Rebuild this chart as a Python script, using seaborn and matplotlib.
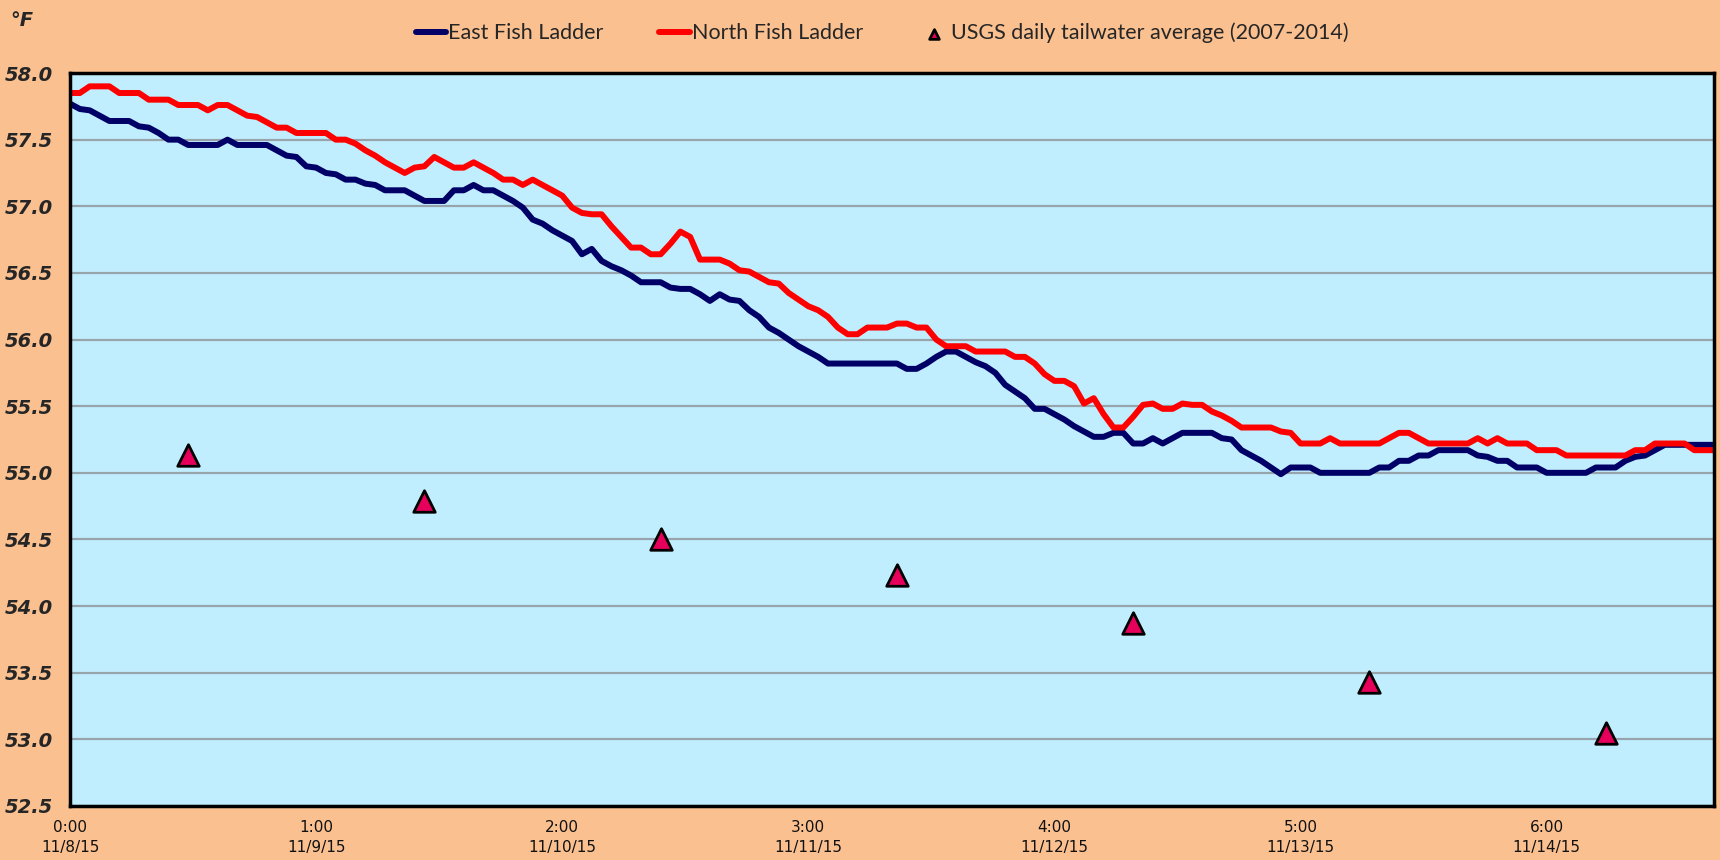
import numpy as np
import pandas as pd
import matplotlib
matplotlib.use("Agg")
import matplotlib.pyplot as plt
import seaborn as sns

# hourly readings, 11/8/15 0:00 onwards
start = "2015-11-08 00:00"

east = [
    57.77, 57.73, 57.72, 57.68, 57.64, 57.64, 57.64, 57.60, 57.59, 57.55, 57.50, 57.50,
    57.46, 57.46, 57.46, 57.46, 57.50, 57.46, 57.46, 57.46, 57.46, 57.42, 57.38, 57.37,
    57.30, 57.29, 57.25, 57.24, 57.20, 57.20, 57.17, 57.16, 57.12, 57.12, 57.12, 57.08,
    57.04, 57.04, 57.04, 57.12, 57.12, 57.16, 57.12, 57.12, 57.08, 57.04, 56.99, 56.90,
    56.87, 56.82, 56.78, 56.74, 56.64, 56.68, 56.59, 56.55, 56.52, 56.48, 56.43, 56.43,
    56.43, 56.39, 56.38, 56.38, 56.34, 56.29, 56.34, 56.30, 56.29, 56.22, 56.17, 56.09,
    56.05, 56.00, 55.95, 55.91, 55.87, 55.82, 55.82, 55.82, 55.82, 55.82, 55.82, 55.82,
    55.82, 55.78, 55.78, 55.82, 55.87, 55.91, 55.91, 55.87, 55.83, 55.80, 55.75, 55.66,
    55.61, 55.56, 55.48, 55.48, 55.44, 55.40, 55.35, 55.31, 55.27, 55.27, 55.30, 55.30,
    55.22, 55.22, 55.26, 55.22, 55.26, 55.30, 55.30, 55.30, 55.30, 55.26, 55.25, 55.17,
    55.13, 55.09, 55.04, 54.99, 55.04, 55.04, 55.04, 55.00, 55.00, 55.00, 55.00, 55.00,
    55.00, 55.04, 55.04, 55.09, 55.09, 55.13, 55.13, 55.17, 55.17, 55.17, 55.17, 55.13,
    55.12, 55.09, 55.09, 55.04, 55.04, 55.04, 55.00, 55.00, 55.00, 55.00, 55.00, 55.04,
    55.04, 55.04, 55.09, 55.12, 55.13, 55.17, 55.21, 55.21, 55.21, 55.21, 55.21, 55.21,
]

north = [
    57.85, 57.85, 57.90, 57.90, 57.90, 57.85, 57.85, 57.85, 57.80, 57.80, 57.80, 57.76,
    57.76, 57.76, 57.72, 57.76, 57.76, 57.72, 57.68, 57.67, 57.63, 57.59, 57.59, 57.55,
    57.55, 57.55, 57.55, 57.50, 57.50, 57.47, 57.42, 57.38, 57.33, 57.29, 57.25, 57.29,
    57.30, 57.37, 57.33, 57.29, 57.29, 57.33, 57.29, 57.25, 57.20, 57.20, 57.16, 57.20,
    57.16, 57.12, 57.08, 56.99, 56.95, 56.94, 56.94, 56.85, 56.77, 56.69, 56.69, 56.64,
    56.64, 56.72, 56.81, 56.77, 56.60, 56.60, 56.60, 56.57, 56.52, 56.51, 56.47, 56.43,
    56.42, 56.35, 56.30, 56.25, 56.22, 56.17, 56.09, 56.04, 56.04, 56.09, 56.09, 56.09,
    56.12, 56.12, 56.09, 56.09, 56.00, 55.95, 55.95, 55.95, 55.91, 55.91, 55.91, 55.91,
    55.87, 55.87, 55.82, 55.74, 55.69, 55.69, 55.65, 55.52, 55.56, 55.44, 55.34, 55.34,
    55.42, 55.51, 55.52, 55.48, 55.48, 55.52, 55.51, 55.51, 55.46, 55.43, 55.39, 55.34,
    55.34, 55.34, 55.34, 55.31, 55.30, 55.22, 55.22, 55.22, 55.26, 55.22, 55.22, 55.22,
    55.22, 55.22, 55.26, 55.30, 55.30, 55.26, 55.22, 55.22, 55.22, 55.22, 55.22, 55.26,
    55.22, 55.26, 55.22, 55.22, 55.22, 55.17, 55.17, 55.17, 55.13, 55.13, 55.13, 55.13,
    55.13, 55.13, 55.13, 55.17, 55.17, 55.22, 55.22, 55.22, 55.22, 55.17, 55.17, 55.17,
]

# USGS daily tailwater average (2007-2014), plotted at noon
usgs_days = ["2015-11-08 12:00", "2015-11-09 12:00", "2015-11-10 12:00", "2015-11-11 12:00",
             "2015-11-12 12:00", "2015-11-13 12:00", "2015-11-14 12:00"]
usgs_avg = [55.13, 54.79, 54.50, 54.23, 53.87, 53.43, 53.05]

y_ticks = [52.5, 53.0, 53.5, 54.0, 54.5, 55.0, 55.5, 56.0, 56.5, 57.0, 57.5, 58.0]

times = pd.date_range(start, periods=len(east), freq="h")
df = pd.DataFrame({"time": times, "east": east, "north": north})
usgs = pd.DataFrame({"time": pd.to_datetime(usgs_days), "avg": usgs_avg})

sns.set_style("white")
plt.rcParams["font.family"] = ["DejaVu Sans"]

fig = plt.figure(figsize=(17.2, 8.6), dpi=100, facecolor="#FAC090")
ax = fig.add_axes([0.0407, 0.0628, 0.9558, 0.8523])
ax.set_facecolor("#C1EEFF")

sns.lineplot(data=df, x="time", y="east", color="#000066", lw=4.3, ax=ax,
             label="East Fish Ladder")
sns.lineplot(data=df, x="time", y="north", color="#FF0000", lw=4.3, ax=ax,
             label="North Fish Ladder")
sns.scatterplot(data=usgs, x="time", y="avg", marker="^", s=240, color="#E6005C",
                edgecolor="black", linewidth=2, ax=ax, zorder=5,
                label="USGS daily tailwater average (2007-2014)")

ax.set_xlim(times[0], times[-1])
ax.set_ylim(52.5, 58.0)
ax.set_yticks(y_ticks)
ax.set_yticklabels([f"{v:.1f}" for v in y_ticks], fontsize=14, fontweight="bold",
                   style="italic")

xt = times[::25]
ax.set_xticks(xt)
ax.set_xticklabels([f"{t.hour}:{t.minute:02d}\n{t.month}/{t.day}/{t.year % 100}" for t in xt],
                   fontsize=11, linespacing=1.4, color="#111111")
ax.tick_params(axis="y", length=0, pad=12)
ax.tick_params(axis="x", length=0, pad=10)
ax.set_xlabel("")
ax.set_ylabel("")

ax.set_axisbelow(True)
ax.yaxis.grid(True, color="#98A4AC", lw=1.6)
ax.xaxis.grid(False)
for sp in ax.spines.values():
    sp.set_color("black")
    sp.set_linewidth(2.5)

fig.text(0.006, 1 - 21 / 860, "°F", fontsize=14, fontweight="bold", style="italic",
         va="center", ha="left")

handles, labels = ax.get_legend_handles_labels()
ax.get_legend().remove()
fig.legend(handles, labels, loc="center", bbox_to_anchor=(0.513, 0.9616), ncol=3,
           frameon=False, handlelength=1.4, handletextpad=0.1, columnspacing=2.6,
           markerscale=0.45, prop={"family": "Lato", "size": 15.5})

fig.savefig("out.png", dpi=100, facecolor=fig.get_facecolor())
